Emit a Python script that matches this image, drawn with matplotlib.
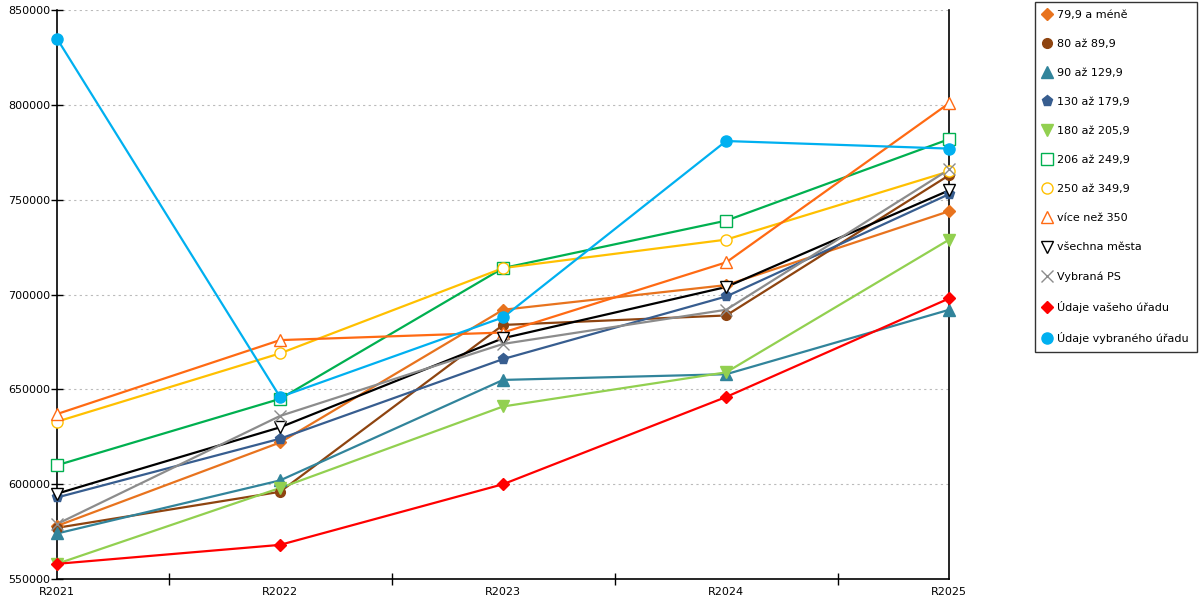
import matplotlib
matplotlib.use("Agg")
from matplotlib import pyplot as plt

years = ["R2021", "R2022", "R2023", "R2024", "R2025"]

s_79 = [578000, 622000, 692000, 705000, 744000]
s_80 = [577000, 596000, 684000, 689000, 763000]
s_90 = [574000, 602000, 655000, 658000, 692000]
s_130 = [593000, 624000, 666000, 699000, 753000]
s_180 = [558000, 598000, 641000, 659000, 729000]
s_206 = [610000, 645000, 714000, 739000, 782000]
s_250 = [633000, 669000, 714000, 729000, 765000]
s_350 = [637000, 676000, 680000, 717000, 801000]
s_all = [595000, 630000, 677000, 704000, 755000]
s_ps = [579000, 636000, 674000, 692000, 766000]
s_vas = [558000, 568000, 600000, 646000, 698000]
s_vyb = [835000, 646000, 688000, 781000, 777000]

labels = ["79,9 a méně", "80 až 89,9", "90 až 129,9", "130 až 179,9",
          "180 až 205,9", "206 až 249,9", "250 až 349,9", "více než 350",
          "všechna města", "Vybraná PS", "Údaje vašeho úřadu",
          "Údaje vybraného úřadu"]
series = [s_79, s_80, s_90, s_130, s_180, s_206, s_250, s_350,
          s_all, s_ps, s_vas, s_vyb]

# colour, marker, filled?, marker size
styles = [
    ("#e8731e", "D", True, 6),
    ("#8e4410", "o", True, 7),
    ("#31849b", "^", True, 8),
    ("#375d8f", "p", True, 8),
    ("#92d050", "v", True, 8),
    ("#00b050", "s", False, 8),
    ("#ffc000", "o", False, 8),
    ("#ff6a13", "^", False, 9),
    ("#000000", "v", False, 9),
    ("#8c8c8c", "x", False, 9),
    ("#ff0000", "D", True, 6),
    ("#00b0f0", "o", True, 8),
]

plt.rcParams["font.family"] = ["DejaVu Sans"]
fig = plt.figure(figsize=(12, 6), dpi=100)
ax = fig.add_axes([0.0475, 0.035, 0.7435, 0.948])

x = list(range(len(years)))
handles = []
for vals, lab, (col, mk, filled, ms) in zip(series, labels, styles):
    ax.plot(x, vals, color=col, lw=1.6, zorder=3)
    face = col if filled else "white"
    if mk == "x":
        face = col
    h, = ax.plot(x, vals, ls="none", marker=mk, ms=ms, color=col,
                 mfc=face, mec=col, mew=1.0, zorder=4, label=lab,
                 clip_on=False)
    handles.append(h)

ax.set_xlim(0, 4)
ax.set_ylim(550000, 850000)
ax.set_yticks(range(550000, 850001, 50000))
ax.set_xticks(x)
ax.set_xticklabels(years)
ax.set_xticks([0.5, 1.5, 2.5, 3.5], minor=True)
ax.yaxis.grid(True, ls=(0, (2, 3)), color="#bbbbbb", lw=0.8)
ax.set_axisbelow(True)
ax.spines["top"].set_visible(False)
for sp in ["left", "bottom", "right"]:
    ax.spines[sp].set_linewidth(1.2)
ax.tick_params(axis="both", which="both", direction="inout", length=8,
               width=1, labelsize=8, pad=1)
ax.tick_params(axis="x", which="major", length=0, pad=6)

leg = fig.legend(handles=handles, loc="upper left",
                 bbox_to_anchor=(0.8625, 0.997), fontsize=8, frameon=True,
                 fancybox=False, edgecolor="black", labelspacing=1.72,
                 handlelength=0.8, handletextpad=0.5, borderpad=0.7,
                 borderaxespad=0)
leg.get_frame().set_linewidth(1.0)

fig.savefig("out.png", dpi=100)
